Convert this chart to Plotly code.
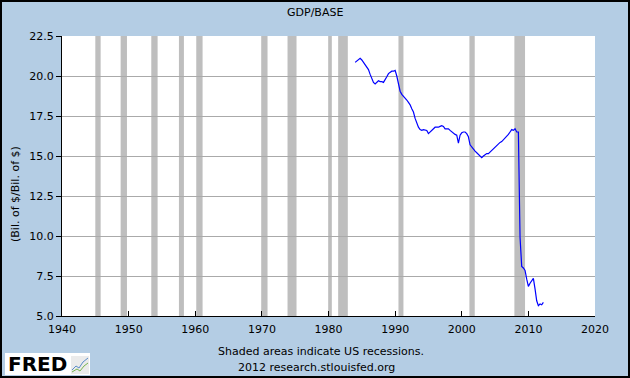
import plotly.graph_objects as go

# ---- data ----
start_year = 1984
start_quarter = 1
ratio_values = [
    20.85, 20.95, 21.0, 21.1,    # 1984
    21.0, 20.85, 20.7, 20.6,     # 1985
    20.4, 20.1, 19.8, 19.6,      # 1986
    19.5, 19.6, 19.7, 19.65,     # 1987
    19.65, 19.6, 19.75, 19.95,   # 1988
    20.15, 20.25, 20.3, 20.3,    # 1989
    20.35, 20.0, 19.6, 19.05,    # 1990
    18.85, 18.75, 18.65, 18.5,   # 1991
    18.35, 18.2, 17.95, 17.75,   # 1992
    17.35, 17.0, 16.8, 16.65,    # 1993
    16.6, 16.65, 16.6, 16.6,     # 1994
    16.4, 16.5, 16.6, 16.75,     # 1995
    16.8, 16.8, 16.8, 16.85,     # 1996
    16.9, 16.85, 16.7, 16.7,     # 1997
    16.7, 16.6, 16.5, 16.4,      # 1998
    16.35, 16.3, 15.8, 16.3,     # 1999
    16.45, 16.5, 16.5, 16.4,     # 2000
    16.2, 15.7, 15.55, 15.4,     # 2001
    15.3, 15.2, 15.1, 15.0,      # 2002
    14.9, 15.0, 15.1, 15.15,     # 2003
    15.15, 15.25, 15.35, 15.5,   # 2004
    15.6, 15.7, 15.8, 15.85,     # 2005
    15.9, 16.0, 16.1, 16.25,     # 2006
    16.35, 16.5, 16.65, 16.6,    # 2007
    16.7, 16.5, 16.5, 9.9,       # 2008
    8.1, 8.0, 7.85, 7.3,         # 2009
    6.85, 7.05, 7.25, 7.35,      # 2010
    6.7, 5.95, 5.65, 5.75,       # 2011
    5.7, 5.85,                   # 2012
]
rec_start = [1945.0, 1948.8, 1953.4, 1957.55, 1960.15, 1969.9, 1973.85,
             1979.95, 1981.45, 1990.5, 2001.15, 2007.9]
rec_end = [1945.8, 1949.75, 1954.35, 1958.3, 1961.1, 1970.85, 1975.2,
           1980.5, 1982.9, 1991.25, 2001.95, 2009.5]
x_ticks = [1940, 1950, 1960, 1970, 1980, 1990, 2000, 2010, 2020]
y_ticks = [5.0, 7.5, 10.0, 12.5, 15.0, 17.5, 20.0, 22.5]

x_vals = [start_year + (start_quarter - 1 + i) / 4 for i in range(len(ratio_values))]

BG = "rgb(180,205,228)"
FONT = "DejaVu Sans"

fig = go.Figure()
fig.add_trace(go.Scatter(x=x_vals, y=ratio_values, mode="lines",
                         line=dict(color="#0000FF", width=1.2),
                         showlegend=False, hoverinfo="skip"))


def px(xp):
    return (xp - 62) / 533


def py(yp):
    return (316 - yp) / 280


shapes = []
for s, e in zip(rec_start, rec_end):
    shapes.append(dict(type="rect", xref="x", yref="paper", x0=s, x1=e, y0=0, y1=1,
                       fillcolor="rgb(190,190,190)", line=dict(width=0), layer="between"))
# figure border
shapes.append(dict(type="rect", xref="paper", yref="paper",
                   x0=px(1), x1=px(629), y0=py(377), y1=py(1),
                   line=dict(color="black", width=2), fillcolor="rgba(0,0,0,0)", layer="above"))

# FRED logo box
shapes.append(dict(type="rect", xref="paper", yref="paper",
                   x0=px(5), x1=px(90), y0=py(375), y1=py(353),
                   fillcolor="white", line=dict(width=0), layer="above"))
shapes.append(dict(type="rect", xref="paper", yref="paper",
                   x0=px(71), x1=px(89), y0=py(374), y1=py(356),
                   fillcolor="rgb(235,235,235)", line=dict(width=0), layer="above"))
shapes.append(dict(type="path", xref="paper", yref="paper",
                   path=f"M {px(72)} {py(370)} L {px(76)} {py(366)} L {px(79)} {py(368)} L {px(83)} {py(362)} L {px(88)} {py(358)}",
                   line=dict(color="rgb(90,140,200)", width=1), layer="above"))
shapes.append(dict(type="path", xref="paper", yref="paper",
                   path=f"M {px(72)} {py(372)} L {px(77)} {py(369)} L {px(80)} {py(371)} L {px(84)} {py(366)} L {px(88)} {py(363)}",
                   line=dict(color="rgb(120,180,80)", width=1), layer="above"))

annotations = [
    dict(text="GDP/BASE", xref="paper", yref="paper", x=px(315), y=py(12),
         showarrow=False, font=dict(family=FONT, size=11, color="black"),
         xanchor="center", yanchor="middle"),
    dict(text="(Bil. of $/Bil. of $)", xref="paper", yref="paper", x=px(15), y=py(194),
         showarrow=False, textangle=-90, font=dict(family=FONT, size=11, color="black"),
         xanchor="center", yanchor="middle"),
    dict(text="Shaded areas indicate US recessions.", xref="paper", yref="paper",
         x=px(321), y=py(351), showarrow=False,
         font=dict(family=FONT, size=11, color="black"), xanchor="center", yanchor="middle"),
    dict(text="2012 research.stlouisfed.org", xref="paper", yref="paper",
         x=px(316), y=py(367), showarrow=False,
         font=dict(family=FONT, size=11, color="black"), xanchor="center", yanchor="middle"),
    dict(text="<b>FRED</b>", xref="paper", yref="paper", x=px(6), y=py(364),
         showarrow=False, font=dict(family=FONT, size=20, color="black"),
         xanchor="left", yanchor="middle"),
]

fig.update_layout(
    width=630, height=378,
    margin=dict(l=62, r=35, t=36, b=62, pad=0),
    paper_bgcolor=BG, plot_bgcolor="white",
    shapes=shapes, annotations=annotations,
    font=dict(family=FONT, size=11, color="black"),
    xaxis=dict(range=[1940, 2020], tickvals=x_ticks, ticktext=[str(v) for v in x_ticks],
               showgrid=False, zeroline=False, showline=True, linecolor="black", linewidth=1,
               ticks="inside", ticklen=5, tickcolor="black", automargin=False,
               ticklabelstandoff=3,
               tickfont=dict(family=FONT, size=11, color="black")),
    yaxis=dict(range=[5, 22.5], tickvals=y_ticks, ticktext=[f"{v:.1f}" for v in y_ticks],
               showgrid=True, gridcolor="rgb(170,170,170)", gridwidth=1,
               zeroline=False, showline=True, linecolor="black", linewidth=1,
               ticks="outside", ticklen=5, tickcolor="black", automargin=False,
               tickfont=dict(family=FONT, size=11, color="black")),
)

fig.write_html("out.html", config={"displayModeBar": False},
               post_script="document.body.style.margin='0';document.body.style.overflow='hidden';")
